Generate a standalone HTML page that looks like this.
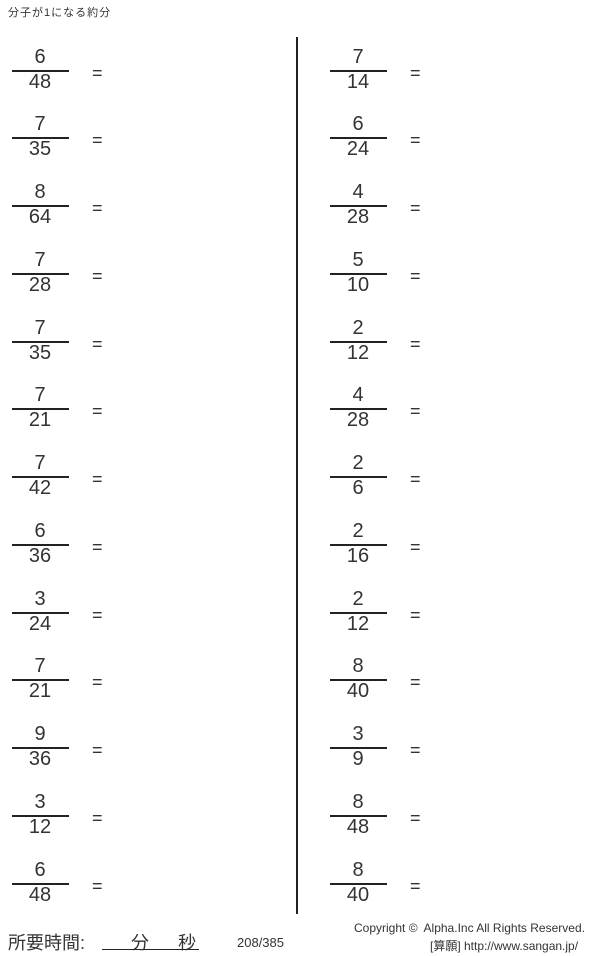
<!DOCTYPE html><html><head><meta charset="utf-8"><style>
body{margin:0;width:600px;height:956px;background:#fff;position:relative;font-family:"Liberation Sans","Noto Sans CJK JP",sans-serif;color:#333;overflow:hidden}
.a{position:absolute}
.n{position:absolute;width:58px;text-align:center;font-size:20px;line-height:22px}
.l{position:absolute;width:57px;height:1.5px;background:#222}
.e{position:absolute;font-size:18px;line-height:20px}
</style></head><body>
<div class="a" style="left:8px;top:4px;font-size:11px;color:#333;letter-spacing:1px">分子が1になる約分</div>
<div class="a" style="left:296px;top:37px;width:2px;height:877px;background:#222"></div>
<div id="c"></div>
<div class="a" style="left:8px;top:929px;font-size:18px">所要時間:</div>
<div class="a" style="left:102px;top:949px;width:97px;height:1px;background:#222"></div>
<div class="a" style="left:131px;top:929px;font-size:18px">分</div>
<div class="a" style="left:178px;top:929px;font-size:18px">秒</div>
<div class="a" style="left:237px;top:935px;font-size:13px">208/385</div>
<div class="a" style="left:354px;top:921px;font-size:12px;color:#333">Copyright ©&nbsp; Alpha.Inc All Rights Reserved.</div>
<div class="a" style="left:430px;top:937px;font-size:12px;color:#333">[算願] http://www.sangan.jp/</div>
<script>
var L=[[6,48],[7,35],[8,64],[7,28],[7,35],[7,21],[7,42],[6,36],[3,24],[7,21],[9,36],[3,12],[6,48]];
var R=[[7,14],[6,24],[4,28],[5,10],[2,12],[4,28],[2,6],[2,16],[2,12],[8,40],[3,9],[8,48],[8,40]];
var h='';
function f(x,y,p){h+='<div class="n" style="left:'+x+'px;top:'+(y-24)+'px">'+p[0]+'</div><div class="l" style="left:'+(x+1)+'px;top:'+y+'px"></div><div class="n" style="left:'+x+'px;top:'+(y+1)+'px">'+p[1]+'</div><div class="e" style="left:'+(x+81)+'px;top:'+(y-7)+'px">=</div>';}
for(var i=0;i<13;i++){var y=Math.round(69.5+i*67.75);f(11,y,L[i]);f(329,y,R[i]);}
document.getElementById('c').innerHTML=h;
</script>
</body></html>
